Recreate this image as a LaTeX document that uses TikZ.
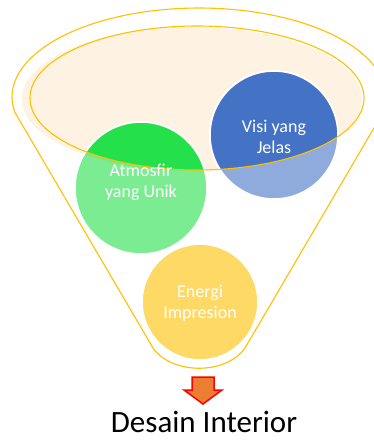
\documentclass[tikz,border=0pt]{standalone}
\usepackage{fontspec}
\setmainfont{Carlito}
\definecolor{funnelY}{HTML}{FFC000}
\definecolor{peach}{HTML}{FEF2E3}
\definecolor{cblue}{HTML}{4472C4}
\definecolor{cgreen}{HTML}{24E04A}
\definecolor{cgold}{HTML}{FFC000}
\definecolor{arrowOr}{HTML}{ED7D31}
\tikzset{
  rim/.style={draw=funnelY, line width=1.1pt},
  ball/.style={draw=white, line width=1.6pt},
  balltext/.style={text=white, align=center, font=\fontsize{18}{21}\selectfont, inner sep=0pt},
}
\begin{document}
\begin{tikzpicture}[x=1pt,y=-1pt]
\useasboundingbox (0,0) rectangle (373,440);
% peach fill of the funnel mouth
\fill[peach] (192,99) ellipse[x radius=170, y radius=72];
% circles, faded outside the mouth
\fill[cblue, fill opacity=0.6] (274,135) circle[radius=64];
\fill[cgreen, fill opacity=0.6] (141,188) circle[radius=66];
\fill[cgold, fill opacity=0.6] (200,302) circle[radius=58];
\draw[ball] (274,135) circle[radius=64];
\draw[ball] (141,188) circle[radius=66];
\draw[ball] (200,302) circle[radius=58];
% full colour inside the mouth
\begin{scope}
  \clip (197,98) ellipse[x radius=167, y radius=72];
  \fill[cblue] (274,135) circle[radius=64];
  \fill[cgreen] (141,188) circle[radius=66];
  \draw[ball] (274,135) circle[radius=64];
  \draw[ball] (141,188) circle[radius=66];
\end{scope}
% inner rim
\draw[rim] (197,98) ellipse[x radius=167, y radius=72];
% funnel outline
\draw[rim, line join=round]
  (14.7,112) arc[start angle=170.3, end angle=369.7, x radius=187, y radius=89]
  -- (245,348) .. controls (226,375) and (172,375) .. (153,348) -- cycle;
% labels
\node[balltext] (visi) at (274,137) {Visi yang\\Jelas};
\node[balltext] (atmo) at (141,182) {Atmosfir\\yang Unik};
\node[balltext] (energi) at (200,303) {Energi\\Impresion};
% arrow
\draw[draw=red, fill=arrowOr, line width=1.5pt, line join=miter]
  (192,377) -- (214,377) -- (214,390) -- (222,390) -- (203,404)
  -- (184,390) -- (192,390) -- cycle;
\node[font=\fontsize{31}{36}\selectfont, anchor=base, inner sep=0pt] (desain) at (204,432) {Desain Interior};
\end{tikzpicture}
\end{document}
